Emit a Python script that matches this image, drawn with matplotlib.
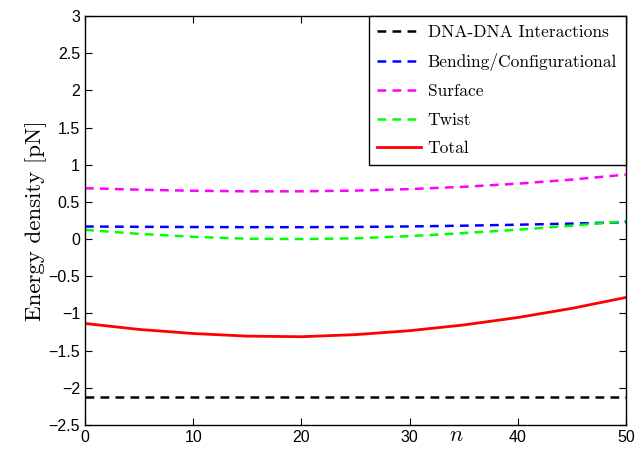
#!/usr/bin/env python3
"""
Energy density contributions versus n (MATLAB style figure).
"""

import numpy as np
import matplotlib
matplotlib.use("Agg")
import matplotlib.pyplot as plt

# values
n_vals   = [0, 5, 10, 15, 20, 25, 30, 35, 40, 45, 50]
dna_dna  = [-2.12] * len(n_vals)
bending  = [0.169, 0.165, 0.162, 0.160, 0.160, 0.163, 0.170, 0.180, 0.193, 0.208, 0.227]
surface  = [0.684, 0.664, 0.650, 0.642, 0.642, 0.652, 0.672, 0.703, 0.745, 0.800, 0.867]
twist    = [0.124, 0.070, 0.030, 0.005, 0.000, 0.010, 0.040, 0.080, 0.125, 0.180, 0.240]
total    = [-1.135, -1.215, -1.270, -1.305, -1.313, -1.285, -1.232, -1.155, -1.055, -0.932, -0.785]

labels = ['DNA-DNA Interactions', 'Bending/Configurational', 'Surface', 'Twist', 'Total']
xticks = [0, 10, 20, 30, 40, 50]
yticks = [-2.5, -2, -1.5, -1, -0.5, 0, 0.5, 1, 1.5, 2, 2.5, 3]
ytick_labels = ['\u22122.5', '\u22122', '\u22121.5', '\u22121', '\u22120.5',
                '0', '0.5', '1', '1.5', '2', '2.5', '3']

plt.rcParams['mathtext.fontset'] = 'cm'
plt.rcParams['font.family'] = ['Liberation Sans', 'DejaVu Sans']

fig = plt.figure(figsize=(6.38, 4.54), dpi=100)
ax = fig.add_axes([0.1332, 0.0639, 0.8478, 0.9009])

dash = (0, (3.5, 2.5))
ax.plot(n_vals, dna_dna, color='black',   ls=dash, lw=1.8, label=labels[0])
ax.plot(n_vals, bending, color='#0000ff', ls=dash, lw=1.8, label=labels[1])
ax.plot(n_vals, surface, color='#ff00ff', ls=dash, lw=1.8, label=labels[2])
ax.plot(n_vals, twist,   color='#00ff00', ls=dash, lw=1.8, label=labels[3])
ax.plot(n_vals, total,   color='#ff0000', ls='-',  lw=2.0, label=labels[4])

ax.set_xlim(0, 50)
ax.set_ylim(-2.5, 3)
ax.set_xticks(xticks)
ax.set_yticks(yticks)
ax.set_yticklabels(ytick_labels)
ax.tick_params(direction='in', top=True, right=True, labelsize=11.5,
               length=5, width=0.8)
for s in ax.spines.values():
    s.set_linewidth(1.0)

ax.set_ylabel('Energy density [pN]', family='cmr10', fontsize=16.5, labelpad=1)
# MATLAB puts the n label in among the tick labels
ax.text(34.3, -2.5, r'$n$', fontsize=16, ha='center', va='top',
        transform=ax.transData)

leg = ax.legend(loc='upper right', borderaxespad=0.0, fancybox=False,
                framealpha=1.0, edgecolor='black', handlelength=2.5,
                handletextpad=0.4, labelspacing=0.75, borderpad=0.5,
                prop={'family': 'cmr10', 'size': 12.5})
leg.get_frame().set_linewidth(1.0)

fig.savefig('out.png', dpi=100)
